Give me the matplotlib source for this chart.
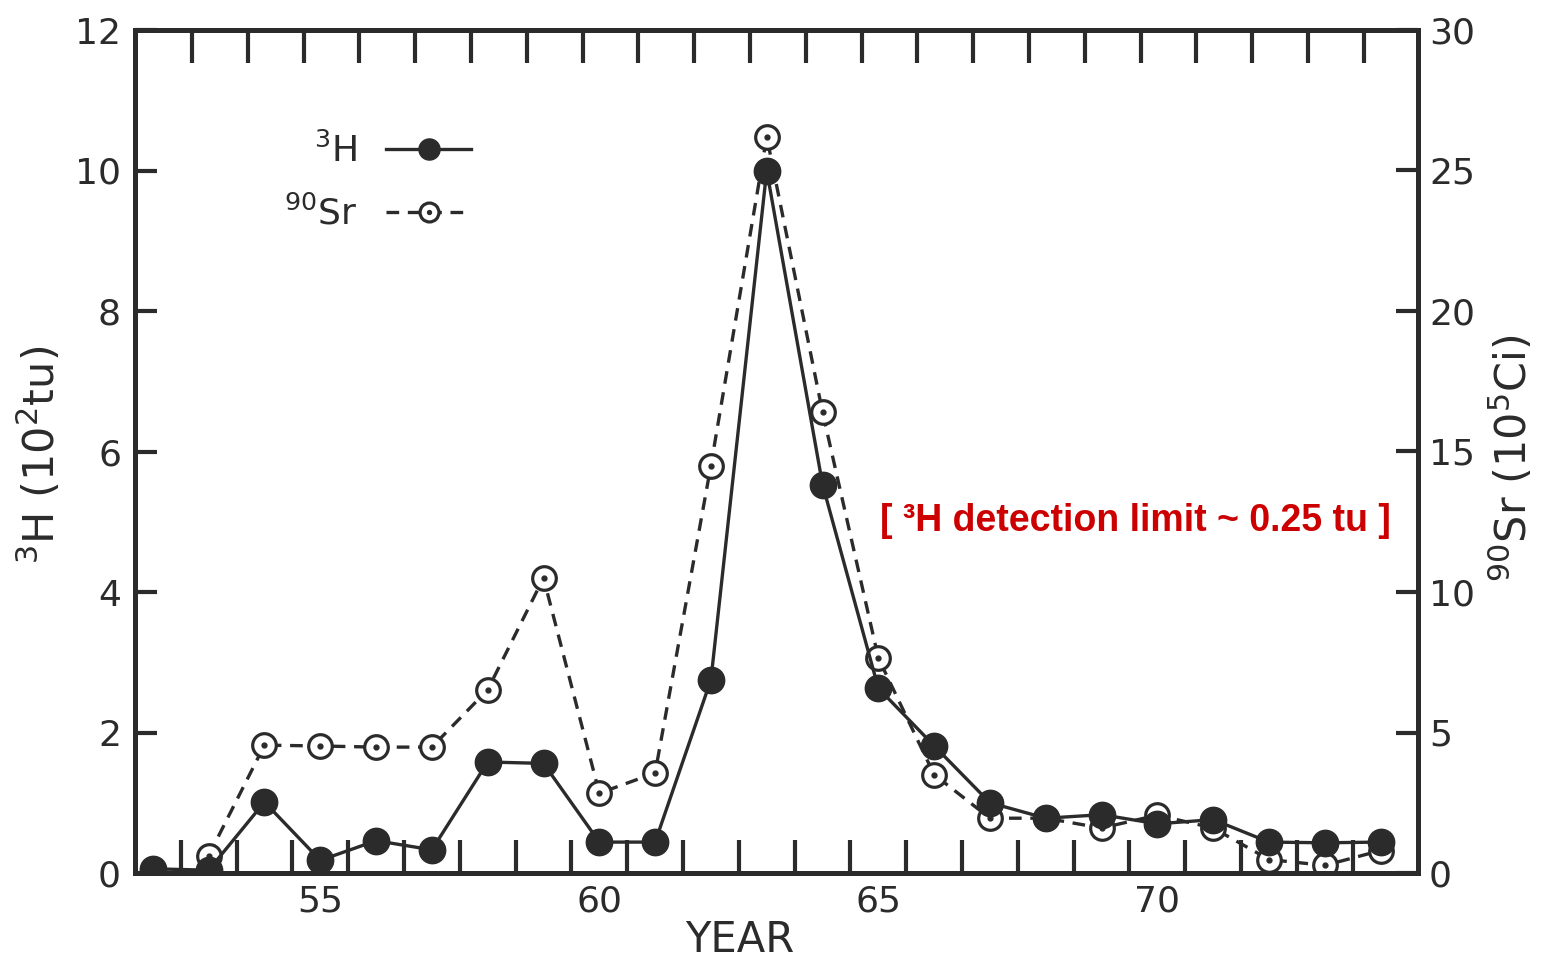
import numpy as np
import matplotlib
matplotlib.use("Agg")
import matplotlib.pyplot as plt

# ---- data ----
years_h = [52, 53, 54, 55, 56, 57, 58, 59, 60, 61, 62, 63, 64, 65, 66, 67, 68, 69, 70, 71, 72, 73, 74]
tritium = [0.06, 0.04, 1.01, 0.18, 0.46, 0.33, 1.58, 1.56, 0.44, 0.44, 2.75, 10.0, 5.53, 2.63, 1.81,
           1.00, 0.78, 0.83, 0.70, 0.76, 0.44, 0.43, 0.44]
years_sr = [53, 54, 55, 56, 57, 58, 59, 60, 61, 62, 63, 64, 65, 66, 67, 68, 69, 70, 71, 72, 73, 74]
strontium = [0.62, 4.55, 4.52, 4.48, 4.48, 6.52, 10.5, 2.84, 3.56, 14.5, 26.2, 16.4, 7.65, 3.5,
             1.95, 1.95, 1.6, 2.06, 1.6, 0.48, 0.27, 0.8]
left_ticks = [0, 2, 4, 6, 8, 10, 12]
right_ticks = [0, 5, 10, 15, 20, 25, 30]
x_label_ticks = [55, 60, 65, 70]
bottom_minor = np.arange(52.5, 74.0, 1.0)
top_minor = np.arange(52.7, 74.0, 1.0)

INK = "#2b2b2b"
plt.rcParams['font.family'] = ['DejaVu Sans']

fig = plt.figure(figsize=(15.45, 9.61), dpi=100)
ax = fig.add_axes([135/1545, 1-873/961, (1418-135)/1545, (873-30)/961])
ax2 = ax.twinx()
ax.set_zorder(ax2.get_zorder() + 1)
ax.patch.set_visible(False)

# Sr series (right axis)
sr_line, = ax2.plot(years_sr, strontium, color=INK, lw=2.4, ls=(0, (3.8, 2.6)),
                    marker='o', ms=17, mfc='white', mec=INK, mew=2.3)
sr_dot, = ax2.plot(years_sr, strontium, ls='none', marker='o', ms=3.5, mfc=INK, mec=INK)
# 3H series (left axis)
h_line, = ax.plot(years_h, tritium, color=INK, lw=2.4, marker='o', ms=19, mfc=INK, mec=INK)

ax.set_xlim(51.68, 74.67)
ax.set_ylim(0, 12)
ax2.set_ylim(0, 30)

for a in (ax, ax2):
    for s in a.spines.values():
        s.set_linewidth(3.6)
        s.set_color(INK)

ax.set_yticks(left_ticks)
ax.tick_params(axis='y', direction='in', length=16, width=3, color=INK,
               labelsize=26, pad=10, labelcolor=INK)
ax2.set_yticks(right_ticks)
ax2.tick_params(axis='y', direction='in', length=16, width=3, color=INK,
                labelsize=26, pad=8, labelcolor=INK)

ax.set_xticks(x_label_ticks)
ax.set_xticks(bottom_minor, minor=True)
ax.tick_params(axis='x', which='major', length=0, labelsize=26, pad=8, labelcolor=INK)
ax.tick_params(axis='x', which='minor', direction='in', length=24, width=3, color=INK,
               bottom=True, top=False)

secax = ax.secondary_xaxis('top')
secax.set_xticks(top_minor)
secax.set_xticklabels([])
secax.tick_params(axis='x', direction='in', length=24, width=3, color=INK)
secax.spines['top'].set_linewidth(3.6)
secax.spines['top'].set_color(INK)

# axis titles
fig.text(40/1545, 1-455/961, r'$^{3}$H (10$^{2}$tu)', rotation=90, ha='center', va='center',
         fontsize=31, color=INK)
fig.text(1512/1545, 1-458/961, r'$^{90}$Sr (10$^{5}$Ci)', rotation=90, ha='center', va='center',
         fontsize=31, color=INK)
fig.text(740/1545, 1-940/961, 'YEAR', ha='center', va='center', fontsize=30, color=INK)

# legend (label left of handle)
leg = ax.legend([h_line, (sr_line, sr_dot)], [r'$^{3}$H', r'$^{90}$Sr'],
                loc='upper right', bbox_to_anchor=(0.262, 0.878), frameon=False,
                markerfirst=False, fontsize=26, handlelength=2.35, handletextpad=0.8,
                labelspacing=0.72, borderpad=0, borderaxespad=0, markerscale=0.8,
                labelcolor=INK)

# annotation
ax.text(0.78, 0.4176, '[ ³H detection limit ~ 0.25 tu ]', transform=ax.transAxes,
        ha='center', va='center', fontsize=27, fontweight='bold', color='#cc0000',
        family=['Liberation Sans', 'DejaVu Sans'])

fig.savefig('out.png', dpi=100)
